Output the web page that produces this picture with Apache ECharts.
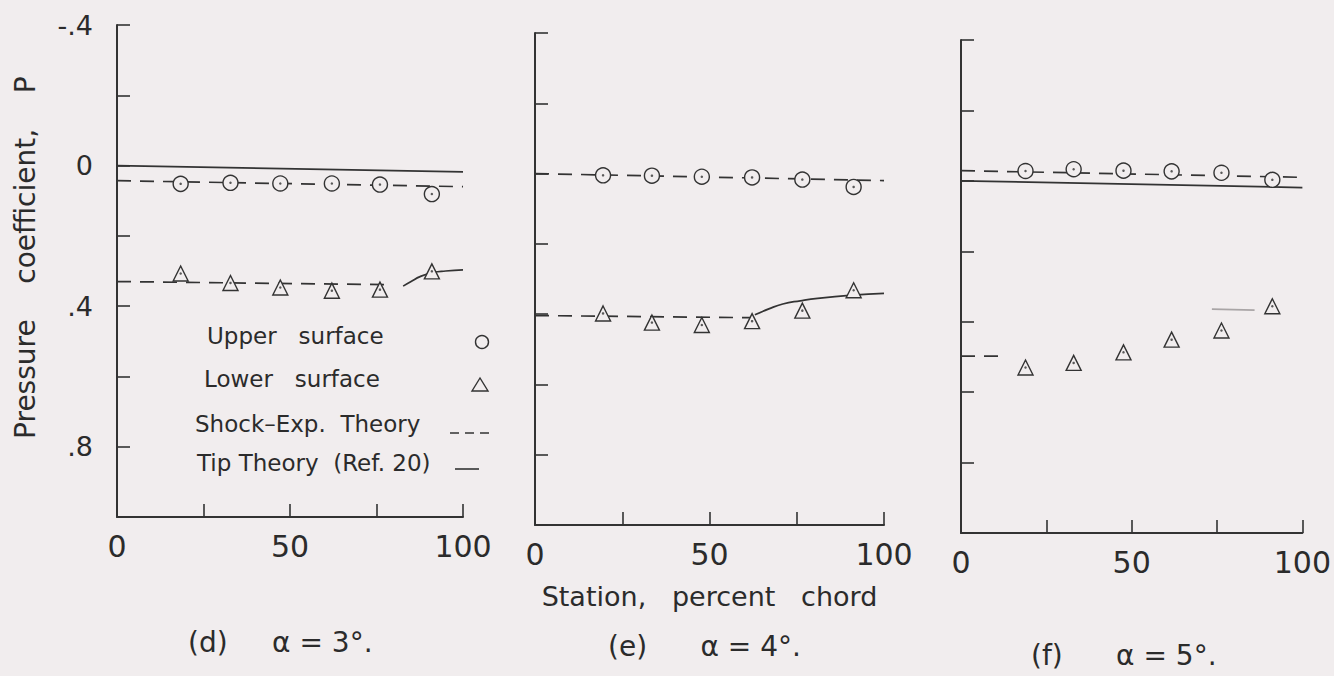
<!DOCTYPE html>
<html><head><meta charset="utf-8">
<script src="https://cdn.jsdelivr.net/npm/echarts@6/dist/echarts.min.js"></script>
<style>html,body{margin:0;padding:0;background:#f1edee}#c{width:1334px;height:676px}</style>
</head><body><div id="c"></div>
<script>
// ---- tick labels ----
const xTickValues = [0, 50, 100];
const xTickLabels = ['0', '50', '100'];
const yTickValues = [-0.4, 0, 0.4, 0.8];
const yTickLabels = ['-.4', '0', '.4', '.8'];

// ---- panel (d) alpha = 3 deg ----
const stationsD = [18.4, 32.8, 47.2, 62.1, 76.0, 91.0];
const upperD = [0.052, 0.049, 0.051, 0.051, 0.054, 0.081];
const lowerD = [0.307, 0.334, 0.347, 0.356, 0.353, 0.301];
const shockUpperD = [[0, 0.043], [100, 0.060]];
const shockLowerD = [[0, 0.330], [79.5, 0.339]];
const tipUpperD = [[0, 0.0], [100, 0.018]];
const tipLowerD = [[82.7, 0.343], [85, 0.330], [87.6, 0.316], [91.4, 0.304], [95, 0.300], [100, 0.297]];

// ---- panel (e) alpha = 4 deg ----
const stationsE = [19.5, 33.5, 47.8, 62.2, 76.6, 91.3];
const upperE = [0.005, 0.006, 0.009, 0.011, 0.017, 0.038];
const lowerE = [0.398, 0.424, 0.431, 0.420, 0.390, 0.332];
const shockUpperE = [[0, 0.0], [100, 0.020]];
const shockLowerE = [[0, 0.404], [62, 0.410]];
const tipLowerE = [[63, 0.402], [67, 0.385], [71, 0.371], [76, 0.362], [81, 0.355], [91, 0.346], [100, 0.341]];

// ---- panel (f) alpha = 5 deg ----
const stationsF = [18.9, 33.0, 47.6, 61.7, 76.3, 91.2];
const upperF = [-0.028, -0.033, -0.029, -0.027, -0.023, -0.003];
const lowerF = [0.530, 0.517, 0.487, 0.451, 0.425, 0.356];
const shockUpperF = [[0, -0.029], [100, -0.010]];
const shockLowerF = [[0, 0.498], [13, 0.498]];
const tipUpperF = [[0, 0.0], [100, 0.019]];
const tipFaintF = [[73.5, 0.364], [86, 0.367]];

const titles = ['(d)\u00a0\u00a0\u00a0\u00a0\u00a0α = 3°.', '(e)\u00a0\u00a0\u00a0\u00a0\u00a0\u00a0α = 4°.', '(f)\u00a0\u00a0\u00a0\u00a0\u00a0\u00a0α = 5°.'];
const legendNames = ['Upper\u00a0\u00a0\u00a0surface', 'Lower\u00a0\u00a0\u00a0surface', 'Shock–Exp.\u00a0\u00a0Theory', 'Tip\u00a0Theory\u00a0\u00a0(Ref.\u00a020)'];

const INK = '#333';
const BG = '#f1edee';
const FONT = 'DejaVu Sans';

function pick(vals, labs) {
  return function (v) {
    const i = vals.findIndex(t => Math.abs(t - v) < 1e-6);
    return i >= 0 ? labs[i] : '';
  };
}
const pairs = (xs, ys) => xs.map((x, i) => [x, ys[i]]);

const grids = [
  { left: 117, top: 25, width: 346, height: 492 },
  { left: 535, top: 33, width: 349, height: 492 },
  { left: 961, top: 40, width: 347, height: 493 }
];

const xAxes = grids.map((g, i) => ({
  type: 'value', gridIndex: i, min: 0, max: 100, interval: 25,
  axisLine: { onZero: false, lineStyle: { color: INK, width: 2 } },
  axisTick: { inside: true, length: 13, lineStyle: { color: INK, width: 1.6 } },
  splitLine: { show: false },
  axisLabel: { formatter: pick(xTickValues, xTickLabels), color: '#2b2b2b', fontFamily: FONT, fontSize: 30, margin: 14, showMinLabel: true, showMaxLabel: true },
  name: i === 1 ? 'Station,\u00a0\u00a0\u00a0percent\u00a0\u00a0\u00a0chord' : '',
  nameLocation: 'middle', nameGap: 58,
  nameTextStyle: { color: '#2b2b2b', fontFamily: FONT, fontSize: 27 }
}));

const yAxes = grids.map((g, i) => ({
  type: 'value', gridIndex: i, min: -0.4, max: 1.0, interval: 0.2, inverse: true,
  axisLine: { show: true, onZero: false, lineStyle: { color: INK, width: 2 } },
  axisTick: { show: true, inside: true, length: 13, lineStyle: { color: INK, width: 1.6 } },
  splitLine: { show: false },
  axisLabel: { show: i === 0, formatter: pick(yTickValues, yTickLabels), color: '#2b2b2b', fontFamily: FONT, fontSize: 27, margin: 24, showMinLabel: true },
  name: i === 0 ? '\u00a0\u00a0\u00a0Pressure\u00a0\u00a0\u00a0\u00a0coefficient,\u00a0\u00a0\u00a0\u00a0P' : '',
  nameLocation: 'middle', nameGap: 78,
  nameTextStyle: { color: '#2b2b2b', fontFamily: FONT, fontSize: 28 }
}));

function lineS(i, data, dashed, smooth, color) {
  return {
    type: 'line', xAxisIndex: i, yAxisIndex: i, data: data, symbol: 'none', smooth: !!smooth,
    lineStyle: { color: color || INK, width: 1.7, type: dashed ? [14, 9] : 'solid' }, z: 2, silent: true
  };
}
function markS(i, data, symbol, size) {
  return {
    type: 'scatter', xAxisIndex: i, yAxisIndex: i, data: data, symbol: symbol, symbolSize: size,
    itemStyle: { color: BG, borderColor: INK, borderWidth: 1.4, opacity: 1 }, z: 3, silent: true
  };
}
function dotS(i, data) {
  return {
    type: 'scatter', xAxisIndex: i, yAxisIndex: i, data: data, symbol: 'circle', symbolSize: 2.5,
    itemStyle: { color: INK }, z: 4, silent: true
  };
}

const series = [
  lineS(0, tipUpperD, false), lineS(0, tipLowerD, false, true),
  lineS(0, shockUpperD, true), lineS(0, shockLowerD, true),
  markS(0, pairs(stationsD, upperD), 'circle', 15), markS(0, pairs(stationsD, lowerD), 'triangle', 15),
  dotS(0, pairs(stationsD, upperD)), dotS(0, pairs(stationsD, lowerD)),

  lineS(1, tipLowerE, false, true),
  lineS(1, shockUpperE, true), lineS(1, shockLowerE, true),
  markS(1, pairs(stationsE, upperE), 'circle', 15), markS(1, pairs(stationsE, lowerE), 'triangle', 15),
  dotS(1, pairs(stationsE, upperE)), dotS(1, pairs(stationsE, lowerE)),

  lineS(2, tipUpperF, false), lineS(2, tipFaintF, false, false, '#a9a5a6'),
  lineS(2, shockUpperF, true), lineS(2, shockLowerF, true),
  markS(2, pairs(stationsF, upperF), 'circle', 15), markS(2, pairs(stationsF, lowerF), 'triangle', 15),
  dotS(2, pairs(stationsF, upperF)), dotS(2, pairs(stationsF, lowerF))
];

const titleStyle = { color: '#2b2b2b', fontFamily: FONT, fontSize: 28, fontWeight: 'normal' };
const title = [
  { text: titles[0], left: 188, top: 628, textStyle: titleStyle, padding: 0 },
  { text: titles[1], left: 608, top: 632, textStyle: titleStyle, padding: 0 },
  { text: titles[2], left: 1031, top: 641, textStyle: titleStyle, padding: 0 }
];

const lgFont = { fontFamily: FONT, fontSize: 23, fill: '#2b2b2b', verticalAlign: 'middle', align: 'left' };
const graphic = [
  { type: 'text', x: 207, y: 336, style: Object.assign({ text: legendNames[0] }, lgFont) },
  { type: 'text', x: 204, y: 379, style: Object.assign({ text: legendNames[1] }, lgFont) },
  { type: 'text', x: 195, y: 424, style: Object.assign({ text: legendNames[2] }, lgFont) },
  { type: 'text', x: 197, y: 463, style: Object.assign({ text: legendNames[3] }, lgFont) },
  { type: 'circle', shape: { cx: 482, cy: 342, r: 6.5 }, style: { fill: 'none', stroke: INK, lineWidth: 1.4 } },
  { type: 'polygon', shape: { points: [[480, 378], [472, 391], [488, 391]] }, style: { fill: 'none', stroke: INK, lineWidth: 1.4 } },
  { type: 'line', shape: { x1: 450, y1: 433, x2: 489, y2: 433 }, style: { stroke: INK, lineWidth: 1.6, lineDash: [9, 6] } },
  { type: 'line', shape: { x1: 455, y1: 469, x2: 479, y2: 469 }, style: { stroke: INK, lineWidth: 1.6 } }
];

const chart = echarts.init(document.getElementById('c'), null, { renderer: 'svg' });
chart.setOption({
  backgroundColor: BG,
  animation: false,
  title: title,
  grid: grids,
  xAxis: xAxes,
  yAxis: yAxes,
  series: series,
  graphic: graphic
});
</script>
</body></html>
